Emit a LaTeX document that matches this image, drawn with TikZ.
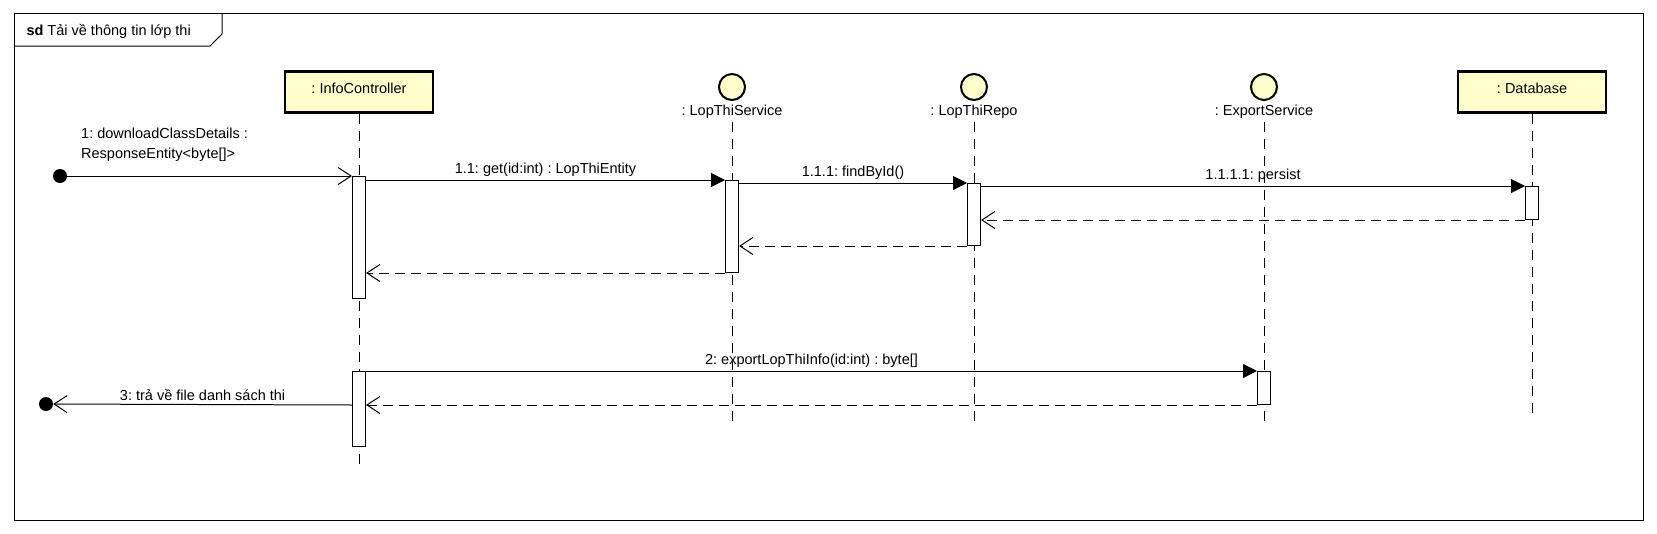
\documentclass[tikz,border=0pt]{standalone}
\usepackage{fontspec}
\setmainfont{Liberation Sans}
\usetikzlibrary{arrows.meta, positioning}
\definecolor{headyellow}{HTML}{FFFFCC}
\frenchspacing

\begin{document}
\begin{tikzpicture}[
    x=1pt, y=-1pt,
    font=\fontsize{14.5}{20}\selectfont,
    head/.style={rectangle, draw, line width=2.5pt, fill=headyellow,
                 minimum width=148pt, minimum height=41pt, inner sep=0pt, text depth=7pt},
    entity/.style={circle, draw, line width=2pt, fill=headyellow, minimum size=26pt, inner sep=0pt},
    lifeline/.style={line width=1pt, dash pattern=on 10pt off 7pt},
    act/.style={rectangle, draw, fill=white, line width=1pt, minimum width=13pt,
                anchor=north, inner sep=0pt},
    call/.style={-{Triangle[length=14pt,width=14pt]}, line width=1pt},
    async/.style={-{Straight Barb[length=13pt,width=17pt]}, line width=1pt},
    reply/.style={-{Straight Barb[length=13pt,width=17pt]}, line width=1pt, dash pattern=on 10pt off 6pt},
    lbl/.style={midway, above, inner sep=3pt},
    enddot/.style={circle, fill, minimum size=14pt, inner sep=0pt}
]
\useasboundingbox (0,0) rectangle (1657,533);

% frame
\draw[line width=1pt] (14,13) rectangle (1643,520);
\draw[line width=1pt] (14,46) -- (210,46) -- (222,34) -- (222,13);
\node[anchor=west] (title) at (23,31) {\textbf{sd} Tải về thông tin lớp thi};

% lifelines
\node[head] (ctrl) at (359,92) {: InfoController};
\node[entity] (svc) at (732,87) {};
\node[below=0pt of svc] (svcname) {: LopThiService};
\node[entity] (repo) at (974,87) {};
\node[below=0pt of repo] (reponame) {: LopThiRepo};
\node[entity] (exp) at (1264,87) {};
\node[below=0pt of exp] (expname) {: ExportService};
\node[head] (db) at (1532,92) {: Database};

\draw[lifeline] (ctrl.south) -- (359,465);
\draw[lifeline] (svcname.south) -- (732,423);
\draw[lifeline] (reponame.south) -- (974,423);
\draw[lifeline] (expname.south) -- (1264,423);
\draw[lifeline] (db.south) -- (1532,417);

% activations
\node[act, minimum height=122pt] (actctrl1) at (359,176) {};
\node[act, minimum height=92pt] (actsvc) at (732,180) {};
\node[act, minimum height=62pt] (actrepo) at (974,183) {};
\node[act, minimum height=33pt] (actdb) at (1532,186) {};
\node[act, minimum height=75pt] (actctrl2) at (359,371) {};
\node[act, minimum height=33pt] (actexp) at (1264,371) {};

% found / lost messages
\node[enddot] (start) at (60,176) {};
\node[enddot] (finish) at (46,404) {};

\draw[async] (start) -- (actctrl1.north west);
\node[anchor=south west, align=left, inner sep=0pt] (m1) at (81,162)
    {1: downloadClassDetails :\\ResponseEntity<byte[]>};
\draw[call] (actctrl1.east |- actsvc.north) -- (actsvc.north west)
    node[lbl] {1.1: get(id:int) : LopThiEntity};
\draw[call] (actsvc.east |- actrepo.north) -- (actrepo.north west)
    node[lbl] {1.1.1: findById()};
\draw[call] (actrepo.east |- actdb.north) -- (actdb.north west)
    node[lbl] {1.1.1.1: persist};
\draw[reply] (actdb.south west) -- (actrepo.east |- actdb.south);
\draw[reply] (actrepo.south west) -- (actsvc.east |- actrepo.south);
\draw[reply] (actsvc.south west) -- (actctrl1.east |- actsvc.south);

\draw[call] (actctrl2.north east) -- (actexp.north west)
    node[lbl] {2: exportLopThiInfo(id:int) : byte[]};
\draw[reply] (actexp.south west) -- (actctrl2.east |- actexp.south);
\draw[async] (actctrl2.west |- actexp.south) -- (finish)
    node[lbl] {3: trả về file danh sách thi};
\end{tikzpicture}
\end{document}
